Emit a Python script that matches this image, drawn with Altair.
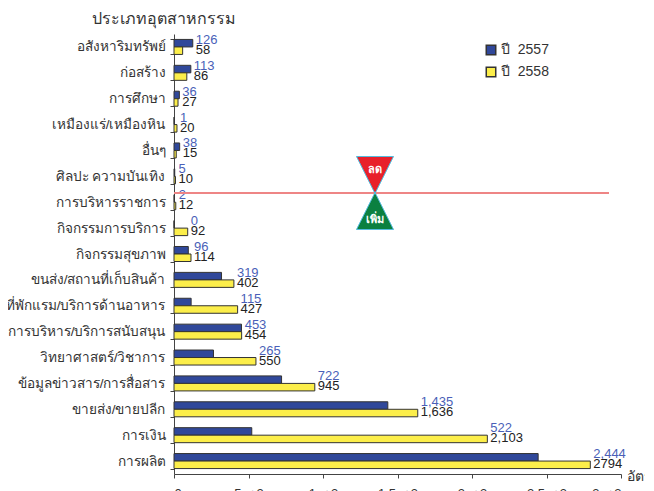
import altair as alt
import pandas as pd

categories = [
    "อสังหาริมทรัพย์", "ก่อสร้าง", "การศึกษา", "เหมืองแร่/เหมืองหิน", "อื่นๆ",
    "ศิลปะ  ความบันเทิง", "การบริหารราชการ", "กิจกรรมการบริการ", "กิจกรรมสุขภาพ",
    "ขนส่ง/สถานที่เก็บสินค้า", "ที่พักแรม/บริการด้านอาหาร", "การบริหาร/บริการสนับสนุน",
    "วิทยาศาสตร์/วิชาการ", "ข้อมูลข่าวสาร/การสื่อสาร", "ขายส่ง/ขายปลีก", "การเงิน", "การผลิต",
]
v2557 = [126, 113, 36, 1, 38, 5, 2, 0, 96, 319, 115, 453, 265, 722, 1435, 522, 2444]
v2558 = [58, 86, 27, 20, 15, 10, 12, 92, 114, 402, 427, 454, 550, 945, 1636, 2103, 2794]
lab2557 = ["126", "113", "36", "1", "38", "5", "2", "0", "96", "319", "115", "453", "265", "722", "1,435", "522", "2,444"]
lab2558 = ["58", "86", "27", "20", "15", "10", "12", "92", "114", "402", "427", "454", "550", "945", "1,636", "2,103", "2794"]
years = ["ปี\u00a0\u00a02557", "ปี\u00a0\u00a02558"]
x_ticks = [0, 500, 1000, 1500, 2000, 2500, 3000]

FONT = "Liberation Sans, Noto Sans, sans-serif"

rows = []
for c, a, b in zip(categories, v2557, v2558):
    rows.append({"cat": c, "year": years[0], "value": a})
    rows.append({"cat": c, "year": years[1], "value": b})
df = pd.DataFrame(rows)

lab = pd.DataFrame({
    "cat": categories,
    "l1": lab2557,
    "l2": lab2558,
    "mx": [max(a, b) for a, b in zip(v2557, v2558)],
})

yscale = alt.Scale(domain=categories, paddingInner=0.42, paddingOuter=0.21)
xscale = alt.Scale(domain=[0, 3000], nice=False)

bars = alt.Chart(df).mark_bar(stroke="#333333", strokeWidth=1).encode(
    y=alt.Y("cat:N", scale=yscale, sort=categories,
            axis=alt.Axis(title="ประเภทอุตสาหกรรม", titleAngle=0, titleAlign="center",
                          titleX=-11, titleY=-16, titleBaseline="middle",
                          titleFontSize=16, titleFontWeight="normal", titleColor="#333333",
                          titleFont=FONT,
                          labelFontSize=13.6, labelColor="#333333", labelFont=FONT,
                          labelLimit=300,
                          labelPadding=5, tickSize=4, tickBand="extent",
                          domainColor="#444444", tickColor="#444444")),
    x=alt.X("value:Q", scale=xscale,
            axis=alt.Axis(title="อัตรา", values=x_ticks, format=",", grid=False,
                          titleX=452, titleY=2, titleAlign="left", titleBaseline="middle",
                          titleFontSize=14, titleFontWeight="normal", titleColor="#333333",
                          titleFont=FONT,
                          labelFontSize=13, labelColor="#333333", labelFont=FONT,
                          labelPadding=9, tickSize=4, domainColor="#444444", tickColor="#444444")),
    yOffset=alt.YOffset("year:N", scale=alt.Scale(domain=years, paddingInner=0, paddingOuter=0)),
    color=alt.Color("year:N", scale=alt.Scale(domain=years, range=["#30489a", "#fcee4a"]),
                    legend=alt.Legend(title=None, orient="none", legendX=310, legendY=9,
                                      symbolType="square", symbolSize=90,
                                      symbolStrokeColor="#333333", symbolStrokeWidth=1.5,
                                      labelFontSize=14, labelColor="#333333", labelFont=FONT,
                                      rowPadding=6, labelOffset=3)),
)

t1 = alt.Chart(lab).mark_text(align="left", baseline="middle", dx=3, dy=-7,
                              fontSize=13, color="#4a5fb8", font=FONT).encode(
    y=alt.Y("cat:N", scale=yscale, sort=categories),
    x=alt.X("mx:Q", scale=xscale),
    text="l1:N",
)
t2 = alt.Chart(lab).mark_text(align="left", baseline="middle", dx=3, dy=3,
                              fontSize=13, color="#222222", font=FONT).encode(
    y=alt.Y("cat:N", scale=yscale, sort=categories),
    x=alt.X("mx:Q", scale=xscale),
    text="l2:N",
)

one = alt.Data(values=[{"a": 1}])
line = alt.Chart(one).mark_rule(color="#ee8585", strokeWidth=2).encode(
    x=alt.value(0), x2=alt.value(435), y=alt.value(159))
tri_dn = alt.Chart(one).mark_point(shape="M-1,-1L1,-1L0,1Z", size=1369, filled=True,
                                   fill="#e8202a", stroke="#55bbdd", strokeWidth=1, opacity=1).encode(
    x=alt.value(201), y=alt.value(141))
tri_up = alt.Chart(one).mark_point(shape="M0,-1L1,1L-1,1Z", size=1369, filled=True,
                                   fill="#0b8040", stroke="#55bbdd", strokeWidth=1, opacity=1).encode(
    x=alt.value(201), y=alt.value(177))
txt_dn = alt.Chart(one).mark_text(text="ลด", color="white", fontWeight="bold", fontSize=11,
                                  baseline="alphabetic", align="center", font=FONT).encode(
    x=alt.value(201), y=alt.value(139))
txt_up = alt.Chart(one).mark_text(text="เพิ่ม", color="white", fontWeight="bold", fontSize=11,
                                  baseline="alphabetic", align="center", font=FONT).encode(
    x=alt.value(201), y=alt.value(189))

chart = alt.layer(bars, t1, t2, line, tri_dn, tri_up, txt_dn, txt_up).properties(
    width=447, height=440,
    autosize=alt.AutoSizeParams(type="none"),
    padding={"left": 166, "top": 26, "right": 24, "bottom": 17},
).configure_view(stroke=None).configure_axis(grid=False)

chart.save("out.html", embed_options={"renderer": "svg", "actions": False})
